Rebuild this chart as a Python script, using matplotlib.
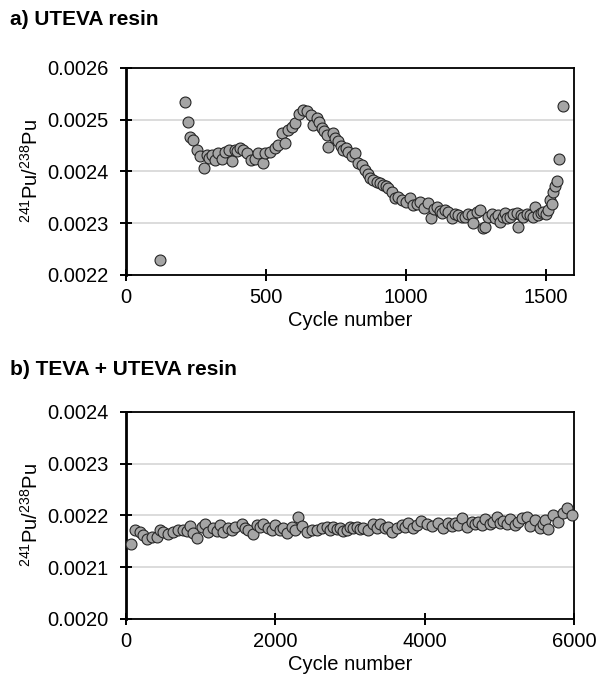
"""Pu-241/Pu-238 ratio versus cycle number for UTEVA and TEVA + UTEVA resin."""

import matplotlib
matplotlib.use("Agg")
import matplotlib.pyplot as plt

plt.rcParams["font.family"] = ["Liberation Sans", "DejaVu Sans"]
plt.rcParams["mathtext.fontset"] = "custom"
plt.rcParams["mathtext.rm"] = "Liberation Sans"

# panel a) UTEVA resin
cycle_a = [120, 211, 222, 229, 240, 252, 264, 279, 288, 298, 306, 318, 330, 342, 354,
           366, 380, 389, 398, 407, 419, 431, 445, 461, 472, 490, 496, 514, 532, 544,
           556, 568, 580, 592, 604, 619, 633, 645, 659, 669, 681, 690, 699, 708, 717,
           723, 738, 748, 758, 767, 776, 785, 794, 806, 818, 830, 842, 854, 863, 871,
           883, 895, 907, 919, 928, 937, 949, 961, 973, 985, 1000, 1014, 1026, 1038,
           1050, 1065, 1080, 1088, 1100, 1110, 1120, 1128, 1140, 1151, 1163, 1175,
           1187, 1199, 1211, 1223, 1235, 1241, 1252, 1264, 1276, 1282, 1294, 1306,
           1318, 1330, 1336, 1345, 1354, 1362, 1371, 1383, 1395, 1401, 1410, 1419,
           1431, 1443, 1452, 1461, 1473, 1482, 1490, 1500, 1508, 1514, 1520, 1526,
           1532, 1540, 1548, 1560]
ratio_a = [0.002229, 0.002535, 0.002495, 0.002467, 0.002461, 0.002442, 0.002429,
           0.002407, 0.002432, 0.002426, 0.002432, 0.002422, 0.002435, 0.002425,
           0.002438, 0.002442, 0.002421, 0.002442, 0.002440, 0.002445, 0.002442,
           0.002435, 0.002422, 0.002425, 0.002435, 0.002417, 0.002435, 0.002438,
           0.002445, 0.002451, 0.002474, 0.002455, 0.002480, 0.002486, 0.002493,
           0.002512, 0.002519, 0.002516, 0.002509, 0.002490, 0.002503, 0.002495,
           0.002484, 0.002478, 0.002471, 0.002447, 0.002474, 0.002465, 0.002458,
           0.002450, 0.002442, 0.002445, 0.002438, 0.002430, 0.002435, 0.002416,
           0.002412, 0.002403, 0.002395, 0.002387, 0.002384, 0.002380, 0.002378,
           0.002374, 0.002372, 0.002368, 0.002360, 0.002348, 0.002350, 0.002345,
           0.002342, 0.002348, 0.002335, 0.002338, 0.002342, 0.002330, 0.002340,
           0.002310, 0.002328, 0.002332, 0.002324, 0.002319, 0.002325, 0.002322,
           0.002310, 0.002318, 0.002316, 0.002312, 0.002313, 0.002318, 0.002316,
           0.002300, 0.002322, 0.002326, 0.002290, 0.002293, 0.002313, 0.002318,
           0.002310, 0.002316, 0.002303, 0.002312, 0.002319, 0.002310, 0.002313,
           0.002318, 0.002319, 0.002293, 0.002316, 0.002313, 0.002318, 0.002316,
           0.002312, 0.002332, 0.002316, 0.002320, 0.002322, 0.002318, 0.002326,
           0.002345, 0.002338, 0.002361, 0.002371, 0.002382, 0.002424, 0.002526]

# panel b) TEVA + UTEVA resin
cycle_b = [67, 120, 187, 232, 286, 344, 411, 455, 500, 567, 634, 701, 768, 812, 857,
           902, 955, 1014, 1058, 1103, 1170, 1215, 1259, 1304, 1371, 1415, 1460,
           1549, 1594, 1639, 1706, 1750, 1795, 1840, 1906, 1951, 1996, 2063, 2108,
           2152, 2219, 2264, 2308, 2353, 2420, 2487, 2554, 2621, 2688, 2733, 2777,
           2822, 2866, 2911, 2955, 3000, 3044, 3089, 3133, 3178, 3245, 3312, 3357,
           3402, 3469, 3513, 3558, 3625, 3692, 3737, 3781, 3848, 3903, 3947, 4027,
           4100, 4183, 4250, 4317, 4362, 4406, 4451, 4496, 4563, 4630, 4675, 4719,
           4764, 4808, 4875, 4920, 4964, 5009, 5053, 5098, 5143, 5210, 5254, 5299,
           5366, 5411, 5478, 5545, 5590, 5612, 5656, 5723, 5790, 5848, 5910, 5969]
ratio_b = [0.002144, 0.002172, 0.002169, 0.002162, 0.002154, 0.002159, 0.002158,
           0.002172, 0.002169, 0.002164, 0.002168, 0.002172, 0.002172, 0.002170,
           0.002180, 0.002167, 0.002156, 0.002178, 0.002183, 0.002169, 0.002175,
           0.002170, 0.002182, 0.002169, 0.002175, 0.002172, 0.002178, 0.002184,
           0.002175, 0.002172, 0.002164, 0.002182, 0.002178, 0.002184, 0.002175,
           0.002172, 0.002182, 0.002171, 0.002176, 0.002166, 0.002178, 0.002172,
           0.002197, 0.002180, 0.002169, 0.002172, 0.002172, 0.002175, 0.002178,
           0.002172, 0.002178, 0.002174, 0.002175, 0.002170, 0.002172, 0.002178,
           0.002176, 0.002178, 0.002174, 0.002175, 0.002172, 0.002183, 0.002176,
           0.002183, 0.002175, 0.002178, 0.002169, 0.002175, 0.002182, 0.002178,
           0.002185, 0.002175, 0.002182, 0.002190, 0.002184, 0.002180, 0.002185,
           0.002175, 0.002186, 0.002180, 0.002186, 0.002182, 0.002195, 0.002178,
           0.002188, 0.002184, 0.002188, 0.002182, 0.002193, 0.002184, 0.002188,
           0.002197, 0.002186, 0.002190, 0.002184, 0.002193, 0.002182, 0.002188,
           0.002195, 0.002198, 0.002180, 0.002191, 0.002175, 0.002184, 0.002191,
           0.002173, 0.002201, 0.002188, 0.002205, 0.002214, 0.002201]

ylabel = r"$\mathregular{^{241}Pu/^{238}Pu}$"

fig = plt.figure(figsize=(6.01, 6.82), dpi=100)
ax_a = fig.add_axes([0.2097, 0.5968, 0.7454, 0.3035])
ax_b = fig.add_axes([0.2097, 0.0924, 0.7454, 0.3035])


def style(ax, xlim, xticks, ylim, yticks):
    ax.set_xlim(*xlim)
    ax.set_ylim(*ylim)
    ax.set_xticks(xticks)
    ax.set_yticks(yticks)
    ax.set_yticklabels([f"{v:.4f}" for v in yticks])
    ax.yaxis.grid(True, color="#d9d9d9", linewidth=1.3)
    ax.set_axisbelow(True)
    for side in ["top", "right", "bottom"]:
        ax.spines[side].set_linewidth(1.3)
    ax.spines["left"].set_linewidth(2.0)
    ax.tick_params(direction="inout", length=9, width=1.4, labelsize=14.5)
    ax.tick_params(axis="y", pad=8)
    ax.tick_params(axis="x", pad=5)
    ax.set_xlabel("Cycle number", fontsize=14.5, labelpad=3)
    ax.set_ylabel(ylabel, fontsize=14.5, labelpad=4)


ax_a.scatter(cycle_a, ratio_a, s=62, facecolor="#a5a5a5", edgecolor="#262626",
             linewidth=0.8, zorder=3, clip_on=False)
style(ax_a, (0, 1600), [0, 500, 1000, 1500], (0.0022, 0.0026),
      [0.0022, 0.0023, 0.0024, 0.0025, 0.0026])

ax_b.scatter(cycle_b, ratio_b, s=62, facecolor="#a5a5a5", edgecolor="#262626",
             linewidth=0.8, zorder=3, clip_on=False)
style(ax_b, (0, 6000), [0, 2000, 4000, 6000], (0.0020, 0.0024),
      [0.0020, 0.0021, 0.0022, 0.0023, 0.0024])

fig.text(0.017, 0.971, "a) UTEVA resin", fontsize=15, fontweight="bold",
         va="center")
fig.text(0.017, 0.458, "b) TEVA + UTEVA resin", fontsize=15, fontweight="bold",
         va="center")

fig.savefig("out.png", dpi=100)
